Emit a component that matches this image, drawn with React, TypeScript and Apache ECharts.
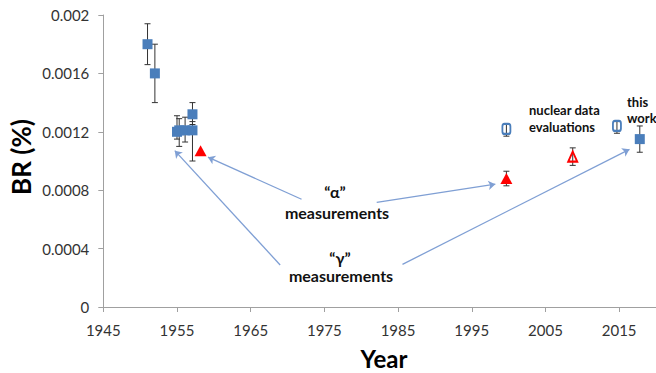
import React, { useEffect, useRef } from "react";
import * as echarts from "echarts";

// ---- data ----
const xMin = 1945;
const xMax = 2020;
const xInterval = 10;
const yTickLabels = ["0", "0.0004", "0.0008", "0.0012", "0.0016", "0.002"];

// "gamma" measurements (filled blue squares)
const gammaYears = [1951.0, 1952.0, 1955.0, 1955.3, 1956.1, 1957.1, 1957.1, 2017.8];
const gammaValues = [0.0018, 0.0016, 0.0012, 0.00121, 0.00121, 0.00132, 0.00121, 0.00115];
const gammaLow = [0.00166, 0.0014, 0.00115, 0.0011, 0.00113, 0.00125, 0.001, 0.00106];
const gammaHigh = [0.00194, 0.0018, 0.00131, 0.00129, 0.0013, 0.0014, 0.00127, 0.00124];

// "alpha" measurements (filled red triangles)
const alphaYears = [1958.2, 1999.7];
const alphaValues = [0.00107, 0.00088];
const alphaLow: (number | null)[] = [null, 0.00083];
const alphaHigh: (number | null)[] = [null, 0.00093];

// nuclear data evaluations (open blue squares)
const evalSqYears = [1999.7, 2014.7];
const evalSqValues = [0.00122, 0.00124];
const evalSqLow = [0.00117, 0.00119];
const evalSqHigh = [0.00125, 0.00127];

// nuclear data evaluation (open red triangle)
const evalTriYears = [2008.7];
const evalTriValues = [0.00103];
const evalTriLow = [0.00097];
const evalTriHigh = [0.00109];

// annotation arrows, [tail, tip] in data coordinates
const arrowTails = [
  [1971.9, 0.000738],
  [1982.1, 0.000717],
  [1969.0, 0.000288],
  [1985.6, 0.000292],
];
const arrowTips = [
  [1959.2, 0.001026],
  [1998.2, 0.000841],
  [1954.7, 0.001071],
  [2016.4, 0.00108],
];

const FONT = "Lato, 'Open Sans', sans-serif";
const BLUE = "#4a7ebb";
const RED = "#ff0000";

function pairs(xs: number[], ys: number[]) {
  return xs.map((x, i) => [x, ys[i]]);
}
function errs(xs: number[], lo: (number | null)[], hi: (number | null)[]) {
  const out: number[][] = [];
  xs.forEach((x, i) => {
    const l = lo[i];
    const h = hi[i];
    if (l != null && h != null) out.push([x, l, h]);
  });
  return out;
}

const errorData = [
  ...errs(gammaYears, gammaLow, gammaHigh),
  ...errs(alphaYears, alphaLow, alphaHigh),
  ...errs(evalSqYears, evalSqLow, evalSqHigh),
  ...errs(evalTriYears, evalTriLow, evalTriHigh),
];

export default function App() {
  const ref = useRef<HTMLDivElement>(null);
  useEffect(() => {
    if (!ref.current) return;
    const chart = echarts.init(ref.current, null, { renderer: "svg" });
    const axisColor = "#a0a0a0";
    chart.setOption({
      animation: false,
      backgroundColor: "#ffffff",
      grid: { left: 103.3, top: 15, bottom: 66, right: 0, containLabel: false },
      xAxis: {
        type: "value",
        min: xMin,
        max: xMax,
        interval: xInterval,
        splitLine: { show: false },
        axisLine: { lineStyle: { color: axisColor, width: 1 } },
        axisTick: { show: true, length: 5, lineStyle: { color: axisColor } },
        axisLabel: {
          margin: 15,
          fontFamily: FONT,
          fontSize: 15,
          color: "#333",
          showMaxLabel: false,
          formatter: (v: number) => ((v - xMin) % xInterval === 0 ? String(v) : ""),
        },
      },
      yAxis: {
        type: "value",
        min: 0,
        max: 0.002,
        interval: 0.0004,
        splitLine: { show: false },
        axisLine: { show: true, lineStyle: { color: axisColor, width: 1 } },
        axisTick: { show: true, length: 5, lineStyle: { color: axisColor } },
        axisLabel: {
          margin: 14,
          fontFamily: FONT,
          fontSize: 15,
          color: "#333",
          formatter: (v: number) => yTickLabels[Math.round(v / 0.0004)] ?? "",
        },
      },
      series: [
        {
          type: "custom",
          name: "errors",
          z: 1,
          silent: true,
          encode: { x: 0, y: [1, 2] },
          data: errorData,
          renderItem: (params: any, api: any) => {
            const x = api.value(0);
            const top = api.coord([x, api.value(2)]);
            const bot = api.coord([x, api.value(1)]);
            const w = 3;
            const st = { stroke: "#333", lineWidth: 1 };
            return {
              type: "group",
              children: [
                { type: "line", shape: { x1: top[0], y1: top[1], x2: bot[0], y2: bot[1] }, style: st },
                { type: "line", shape: { x1: top[0] - w, y1: top[1], x2: top[0] + w, y2: top[1] }, style: st },
                { type: "line", shape: { x1: bot[0] - w, y1: bot[1], x2: bot[0] + w, y2: bot[1] }, style: st },
              ],
            };
          },
        },
        {
          type: "scatter",
          name: "gamma",
          z: 3,
          symbol: "rect",
          symbolSize: 10,
          itemStyle: { color: BLUE, opacity: 1 },
          data: pairs(gammaYears, gammaValues),
          markLine: {
            silent: true,
            symbol: ["none", "arrow"],
            symbolSize: 7,
            label: { show: false },
            lineStyle: { color: "#7f9fd4", width: 1.3, type: "solid" },
            data: arrowTails.map((t, i) => [
              { coord: t, symbol: "none" },
              { coord: arrowTips[i], symbol: "arrow" },
            ]),
          },
        },
        {
          type: "scatter",
          name: "alpha",
          z: 3,
          symbol: "triangle",
          symbolSize: [12, 11],
          itemStyle: { color: RED, opacity: 1 },
          data: pairs(alphaYears, alphaValues),
        },
        {
          type: "scatter",
          name: "evalSq",
          z: 3,
          symbol: "roundRect",
          symbolSize: [8, 10],
          itemStyle: { color: "rgba(255,255,255,0)", borderColor: BLUE, borderWidth: 2, opacity: 1 },
          data: pairs(evalSqYears, evalSqValues),
        },
        {
          type: "scatter",
          name: "evalTri",
          z: 3,
          symbol: "triangle",
          symbolSize: [9, 10],
          itemStyle: { color: "rgba(255,255,255,0)", borderColor: RED, borderWidth: 2, opacity: 1 },
          data: pairs(evalTriYears, evalTriValues),
        },
      ],
      graphic: [
        {
          type: "text",
          x: 21,
          y: 157,
          rotation: Math.PI / 2,
          style: {
            text: "BR (%)",
            fontFamily: FONT,
            fontWeight: "bold",
            fontSize: 26,
            fill: "#000",
            align: "center",
            verticalAlign: "middle",
          },
        },
        {
          type: "text",
          x: 384,
          y: 358,
          style: {
            text: "Year",
            fontFamily: FONT,
            fontWeight: "bold",
            fontSize: 24,
            fill: "#000",
            align: "center",
            verticalAlign: "middle",
          },
        },
        ...[
          { t: "\u201C\u03B1\u201D", x: 335, y: 191, s: 16 },
          { t: "measurements", x: 337, y: 212, s: 16 },
          { t: "\u201C\u03B3\u201D", x: 340, y: 257, s: 16 },
          { t: "measurements", x: 341, y: 275, s: 16 },
        ].map((a) => ({
          type: "text",
          x: a.x,
          y: a.y,
          style: {
            text: a.t,
            fontFamily: FONT,
            fontWeight: "bold",
            fontSize: a.s,
            fill: "#111",
            align: "center",
            verticalAlign: "middle",
          },
        })),
        ...[
          { t: "nuclear data", x: 529, y: 110 },
          { t: "evaluations", x: 529, y: 127 },
          { t: "this", x: 627, y: 102 },
          { t: "work", x: 627, y: 118 },
        ].map((a) => ({
          type: "text",
          x: a.x,
          y: a.y,
          style: {
            text: a.t,
            fontFamily: FONT,
            fontWeight: "bold",
            fontSize: 13,
            fill: "#111",
            align: "left",
            verticalAlign: "middle",
          },
        })),
      ],
    });
    return () => chart.dispose();
  }, []);
  return (
    <div
      ref={ref}
      style={{ position: "fixed", left: 0, top: 0, width: 656, height: 373, background: "#fff" }}
    />
  );
}
